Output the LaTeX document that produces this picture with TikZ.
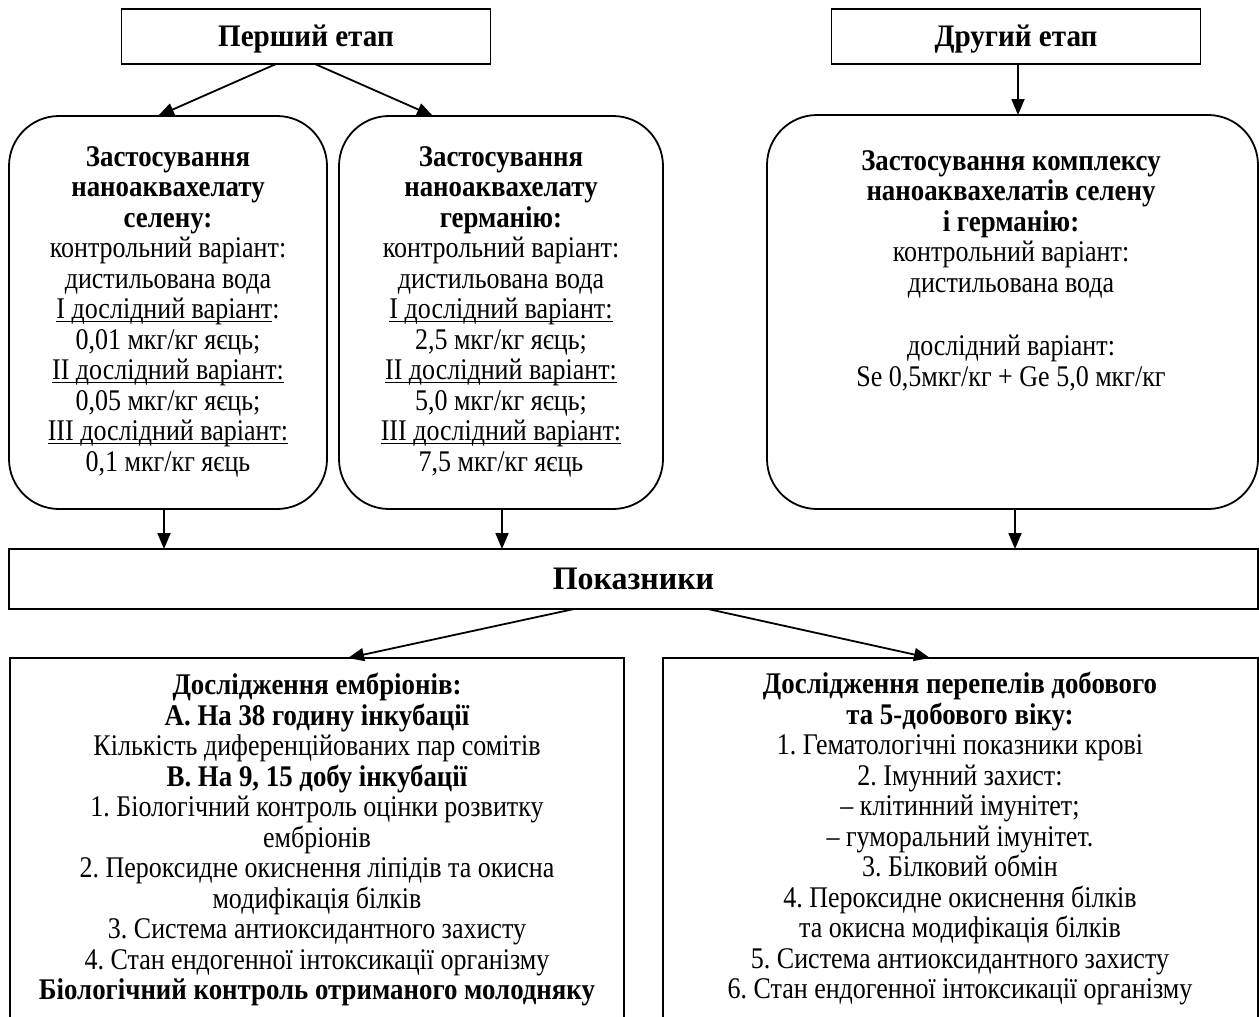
\documentclass[tikz,border=0pt]{standalone}
\usepackage{fontspec}
\setmainfont{Liberation Serif}[FakeStretch=0.867]
\newfontfamily\hbfont{Liberation Serif}[FakeStretch=0.895]
\newfontfamily\ttlfont{Liberation Serif}[FakeStretch=0.93]
\newfontfamily\pokfont{Liberation Serif}[FakeStretch=0.975]
\usetikzlibrary{arrows.meta,calc}
\newcommand\udl[1]{\begingroup\setbox0\hbox{#1}\rlap{\rule[-3.5pt]{\wd0}{1.3pt}}\box0\endgroup}
\newcommand\hb[1]{{\hbfont\bfseries #1}}
\newcommand\bodyfnt{\fontsize{30}{30.5}\selectfont\lineskiplimit=-100pt\relax\lineskip=0pt\relax\frenchspacing}
\begin{document}
\begin{tikzpicture}[x=1pt,y=-1pt,
  frame/.style={draw, line width=1.8pt, inner sep=0pt, outer sep=0pt, anchor=north west},
  rbox/.style={frame, rounded corners=50pt},
  body/.style={align=center, font=\bodyfnt, inner sep=0pt},
  ttl/.style={font=\fontsize{31.3}{34}\selectfont\ttlfont\bfseries, text height=20.5pt, text depth=0pt},
  arr/.style={line width=1.8pt, -{Triangle[length=16pt,width=13pt]}}]
\useasboundingbox (0,0) rectangle (1259,1017);
\clip (0,0) rectangle (1259,1017);

% top boxes
\node[frame, ttl, minimum width=369pt, minimum height=55pt] (p1) at (121.5,9) {Перший етап};
\node[frame, ttl, minimum width=369pt, minimum height=55pt] (p2) at (831.5,9) {Другий етап};

% rounded boxes
\node[rbox, minimum width=318pt, minimum height=393pt] (b1) at (9,116) {};
\node[rbox, minimum width=324pt, minimum height=393pt] (b2) at (339,116) {};
\node[rbox, minimum width=491pt, minimum height=394pt] (b3) at (767,115) {};
\node[body] (t1) at (168,311.5)
 {\hb{Застосування}\\ \hb{наноаквахелату}\\ \hb{селену:}\\ контрольний варіант:\\ дистильована вода\\ \udl{I дослідний варіант}:\\ 0,01 мкг/кг яєць;\\ \udl{II дослідний варіант:}\\ 0,05 мкг/кг яєць;\\ \udl{III дослідний варіант:}\\ 0,1 мкг/кг яєць};
\node[body] (t2) at (501,311.5)
 {\hb{Застосування}\\ \hb{наноаквахелату}\\ \hb{германію:}\\ контрольний варіант:\\ дистильована вода\\ \udl{I дослідний варіант:}\\ 2,5 мкг/кг яєць;\\ \udl{II дослідний варіант:}\\ 5,0 мкг/кг яєць;\\ \udl{III дослідний варіант:}\\ 7,5 мкг/кг яєць};
\node[body] (t3) at (1011,270.5)
 {\hb{Застосування комплексу}\\ \hb{наноаквахелатів селену}\\ \hb{і германію:}\\ контрольний варіант:\\ дистильована вода\\[33pt] дослідний варіант:\\ Se 0,5мкг/кг + Ge 5,0 мкг/кг};

% indicators
\node[frame, font=\fontsize{32.8}{36}\selectfont\pokfont\bfseries, text height=21.7pt, text depth=0pt, minimum width=1249pt, minimum height=60pt] (pok) at (9,549) {Показники};

% lower boxes
\node[frame, minimum width=614pt, minimum height=420pt] (L) at (10,658) {};
\node[frame, minimum width=595pt, minimum height=420pt] (R) at (663,658) {};
\node[body] (tL) at (317,839.5)
 {\hb{Дослідження ембріонів:}\\ \hb{А. На 38 годину інкубації}\\ Кількість диференційованих пар сомітів\\ \hb{В. На 9, 15 добу інкубації}\\ 1. Біологічний контроль оцінки розвитку\\ ембріонів\\ 2. Пероксидне окиснення ліпідів та окисна\\ модифікація білків\\ 3. Система антиоксидантного захисту\\ 4. Стан ендогенної інтоксикації організму\\ \hb{Біологічний контроль отриманого молодняку}};
\node[body] (tR) at (960,838.5)
 {\hb{Дослідження перепелів добового}\\ \hb{та 5-добового віку:}\\ 1. Гематологічні показники крові\\ 2. Імунний захист:\\ – клітинний імунітет;\\ – гуморальний імунітет.\\ 3. Білковий обмін\\ 4. Пероксидне окиснення білків\\ та окисна модифікація білків\\ 5. Система антиоксидантного захисту\\ 6. Стан ендогенної інтоксикації організму};

% connectors
\draw[arr] ($(p1.south west)+(154.5,0)$) -- ($(b1.north west)+(149,0)$);
\draw[arr] ($(p1.south west)+(193.5,0)$) -- ($(b2.north west)+(94,0)$);
\draw[arr] ($(p2.south west)+(186.5,0)$) -- ($(b3.north west)+(251,0)$);
\draw[arr] ($(b1.south west)+(155,0)$) -- ($(pok.north west)+(155,0)$);
\draw[arr] ($(b2.south west)+(163,0)$) -- ($(pok.north west)+(493,0)$);
\draw[arr] ($(b3.south west)+(248,0)$) -- ($(pok.north west)+(1006,0)$);
\draw[arr] ($(pok.south west)+(565,0)$) -- ($(L.north west)+(338,0)$);
\draw[arr] ($(pok.south west)+(699,0)$) -- ($(R.north west)+(267,0)$);
\end{tikzpicture}
\end{document}
